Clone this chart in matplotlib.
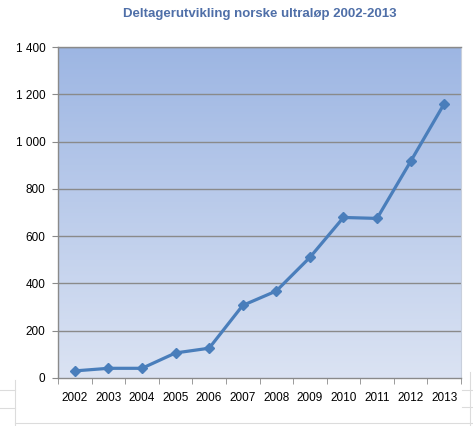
import numpy as np
import matplotlib
matplotlib.use("Agg")
import matplotlib.pyplot as plt
import matplotlib.ticker as mticker
from matplotlib.colors import LinearSegmentedColormap
from matplotlib.lines import Line2D

# data
years = ["2002", "2003", "2004", "2005", "2006", "2007",
         "2008", "2009", "2010", "2011", "2012", "2013"]
participants = [30, 41, 41, 106, 126, 307, 368, 510, 679, 675, 916, 1160]
y_ticks = [0, 200, 400, 600, 800, 1000, 1200, 1400]

plt.rcParams['font.family'] = ['Liberation Sans', 'DejaVu Sans']

W, H = 473, 426
fig = plt.figure(figsize=(W / 100, H / 100), dpi=100)
# plot area in pixels: left 58, right 461, top 47, bottom 378
ax = fig.add_axes([58 / W, 1 - 378 / H, (461 - 58) / W, (378 - 47) / H])

# faint spreadsheet cell lines behind the chart
faint = '#dcdcdc'
for (x0, y0, x1, y1) in [(15, 380, 15, 426), (0, 390, 15, 390), (0, 408, 15, 408),
                         (15, 423, 473, 423), (470, 372, 470, 426),
                         (462, 390, 473, 390), (462, 407, 473, 407)]:
    fig.add_artist(Line2D([x0 / W, x1 / W], [1 - y0 / H, 1 - y1 / H],
                          color=faint, lw=0.8, zorder=0))

x = np.arange(len(years))
ax.set_xlim(-0.5, len(years) - 0.5)
ax.set_ylim(0, 1400)

# gradient fill of the plot area
cmap = LinearSegmentedColormap.from_list('bg', ['#dbe3f3', '#9db6e3'])
grad = np.linspace(0, 1, 256).reshape(-1, 1)
ax.imshow(grad, cmap=cmap, aspect='auto', origin='lower',
          extent=[-0.5, len(years) - 0.5, 0, 1400], zorder=0)

for v in y_ticks[1:]:
    ax.axhline(v, color='#8a8a8a', lw=1.0, zorder=1)

ax.plot(x, participants, color='#4a7ebb', lw=2.3, marker='D', markersize=5.5,
        markerfacecolor='#4a7ebb', markeredgecolor='#4a7ebb', zorder=3)

ax.set_yticks(y_ticks)
ax.yaxis.set_major_formatter(mticker.FuncFormatter(
    lambda v, _: f"{int(v):,}".replace(",", " ")))
ax.set_xticks(x)
ax.set_xticklabels(years)
ax.set_xticks(np.arange(-0.5, len(years)), minor=True)
ax.tick_params(axis='x', which='major', length=0, pad=10, labelsize=8.5)
ax.tick_params(axis='x', which='minor', length=4, color='#8a8a8a', direction='out')
ax.tick_params(axis='y', length=4, color='#8a8a8a', direction='out',
               labelsize=8.5, pad=5)

for side in ['left', 'bottom', 'top']:
    ax.spines[side].set_color('#8a8a8a')
    ax.spines[side].set_linewidth(1.0)
ax.spines['right'].set_color('#c8cfdc')

fig.text(260 / W, 1 - 14 / H, 'Deltagerutvikling norske ultraløp 2002-2013',
         ha='center', va='center', fontsize=9.5, fontweight='bold', color='#4f6fa8')

fig.savefig('out.png', dpi=100)
